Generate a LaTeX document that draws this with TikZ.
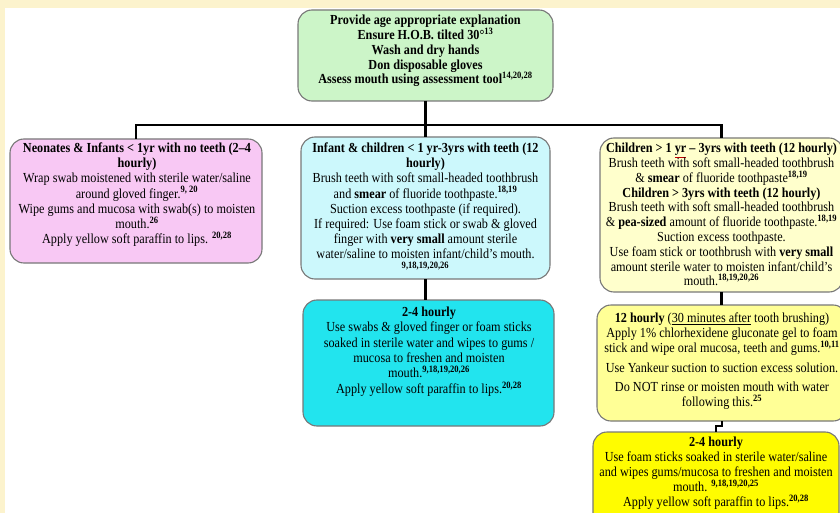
\documentclass[tikz,border=0pt]{standalone}
\usepackage{fontspec}
\setmainfont[FakeStretch=0.885]{Liberation Serif}
\definecolor{cream}{RGB}{252,243,205}
\definecolor{cgreen}{RGB}{204,245,200}
\definecolor{cpink}{RGB}{248,200,244}
\definecolor{clcyan}{RGB}{204,248,252}
\definecolor{cbcyan}{RGB}{34,228,238}
\definecolor{clyel}{RGB}{255,255,204}
\definecolor{cmyel}{RGB}{255,255,150}
\definecolor{cbyel}{RGB}{255,252,0}
\definecolor{cborder}{RGB}{120,120,120}
\newcommand{\refsup}[1]{\textsuperscript{\textbf{#1}}}
\newcommand{\redul}[1]{\textcolor{red!75!black}{\underline{\textcolor{black}{#1}}}}
\newcommand{\fs}[1]{\fontsize{13.8}{#1}\selectfont}
\tikzset{
  box/.style={draw=cborder, line width=1.1pt, rounded corners=14pt, inner sep=0pt, outer sep=0pt, anchor=north west},
  txt/.style={inner sep=0pt, align=center, anchor=north},
  conn/.style={draw=black, line width=2.4pt},
}
\begin{document}
\begin{tikzpicture}[x=1pt,y=-1pt]
\useasboundingbox (0,0) rectangle (840,513);
\clip (0,0) rectangle (840,513);
\fill[white] (0,0) rectangle (840,513);
\fill[cream] (0,0) rectangle (840,8);
\fill[cream] (0,0) rectangle (5,513);

% boxes
\node[box, fill=cgreen, minimum width=255pt, minimum height=91pt] (top) at (298,10) {};
\node[box, fill=cpink, minimum width=252pt, minimum height=124pt] (pink) at (10,139) {};
\node[box, fill=clcyan, minimum width=249pt, minimum height=142pt] (lc) at (301,137) {};
\node[box, fill=clyel, minimum width=243pt, minimum height=154pt] (ry) at (600,138) {};
\node[box, fill=cbcyan, minimum width=251pt, minimum height=126pt] (bc) at (303,300) {};
\node[box, fill=cmyel, minimum width=250pt, minimum height=116pt] (tw) at (597,305) {};
\node[box, fill=cbyel, minimum width=246pt, minimum height=100pt] (by) at (593,432) {};

% connectors
\coordinate (bar) at (425.5,125);
\draw[conn] (top.south) -- (lc.north);
\draw[conn] (pink.north) -- (pink.north |- bar) -- (ry.north |- bar) -- (ry.north);
\draw[conn] (lc.south) -- (lc.south |- bc.north);
\draw[conn] (ry.south) -- (ry.south |- tw.north);
\draw[conn] (tw.south) -- ++(0,5) -| (by.north);

% texts
\node[txt, font=\fs{14.8}\bfseries] (t-top) at (425.5,15)
 {Provide age appropriate explanation\\
  Ensure H.O.B. tilted 30°\refsup{13}\\
  Wash and dry hands\\
  Don disposable gloves\\
  Assess mouth using assessment tool\refsup{14,20,28}};

\node[txt, font=\fs{15.2}] (t-pink) at (137,142.5)
 {\textbf{Neonates \& Infants < 1yr with no teeth (2–4}\\
  \textbf{hourly)}\\
  Wrap swab moistened with sterile water/saline\\
  around gloved finger.\refsup{9, 20}\\
  Wipe gums and mucosa with swab(s) to moisten\\
  mouth.\refsup{26}\\
  Apply yellow soft paraffin to lips. \refsup{20,28}};

\node[txt, font=\fs{15.2}] (t-lc) at (425.5,142.5)
 {\textbf{Infant \& children < 1 yr-3yrs with teeth (12}\\
  \textbf{hourly)}\\
  Brush teeth with soft small-headed toothbrush\\
  and \textbf{smear} of fluoride toothpaste.\refsup{18,19}\\
  Suction excess toothpaste (if required).\\
  If required: Use foam stick or swab \& gloved\\
  finger with \textbf{very small} amount sterile\\
  water/saline to moisten infant/child’s mouth.\\
  \refsup{9,18,19,20,26}};

\node[txt, font=\fs{14.8}] (t-ry) at (721.5,143)
 {\textbf{Children > 1 \redul{yr} – 3yrs with teeth (12 hourly)}\\
  Brush teeth with soft small-headed toothbrush\\
  \& \textbf{smear} of fluoride toothpaste\refsup{18,19}\\
  \textbf{Children > 3yrs with teeth (12 hourly)}\\
  Brush teeth with soft small-headed toothbrush\\
  \& \textbf{pea-sized} amount of fluoride toothpaste.\refsup{18,19}\\
  Suction excess toothpaste.\\
  Use foam stick or toothbrush with \textbf{very small}\\
  amount sterile water to moisten infant/child’s\\
  mouth.\refsup{18,19,20,26}};

\node[txt, font=\fs{15.4}] (t-bc) at (429,306.5)
 {\textbf{2-4 hourly}\\
  Use swabs \& gloved finger or foam sticks\\
  soaked in sterile water and wipes to gums /\\
  mucosa to freshen and moisten\\
  mouth.\refsup{9,18,19,20,26}\\
  Apply yellow soft paraffin to lips.\refsup{20,28}};

\node[txt, font=\fs{15}] (t-tw) at (722,312.5)
 {\textbf{12 hourly} (\underline{30 minutes after} tooth brushing)\\
  Apply 1\% chlorhexidene gluconate gel to foam\\
  stick and wipe oral mucosa, teeth and gums.\refsup{10,11}\\[5pt]
  Use Yankeur suction to suction excess solution.\\[4pt]
  Do NOT rinse or moisten mouth with water\\
  following this.\refsup{25}};

\node[txt, font=\fs{15}] (t-by) at (716,437)
 {\textbf{2-4 hourly}\\
  Use foam sticks soaked in sterile water/saline\\
  and wipes gums/mucosa to freshen and moisten\\
  mouth. \refsup{9,18,19,20,25}\\
  Apply yellow soft paraffin to lips.\refsup{20,28}};
\end{tikzpicture}
\end{document}
